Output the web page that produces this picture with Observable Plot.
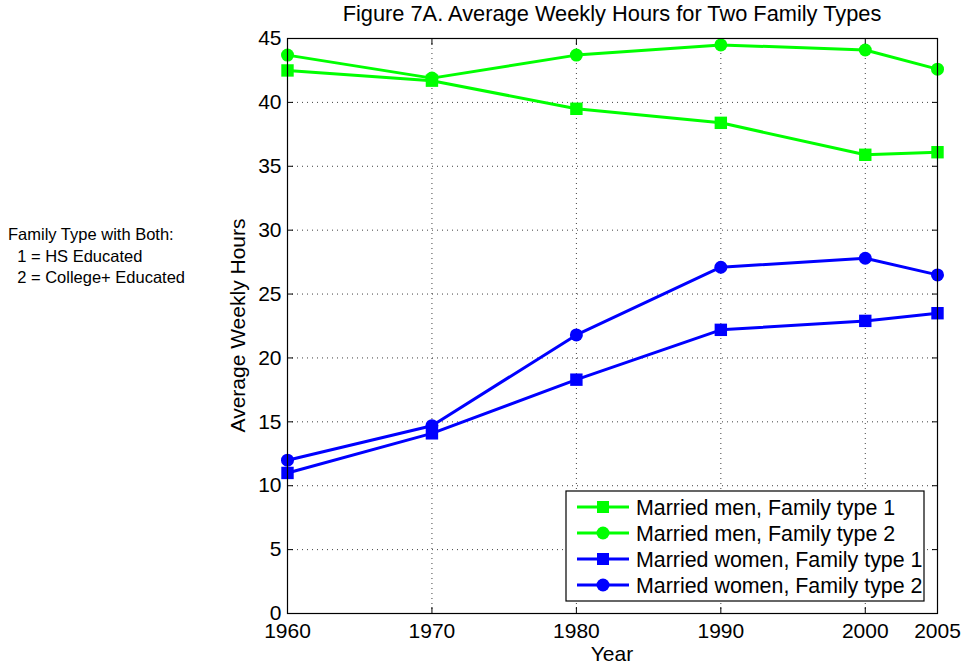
<!DOCTYPE html>
<html>
<head>
<meta charset="utf-8">
<script src="https://cdn.jsdelivr.net/npm/d3@7"></script>
<script src="https://cdn.jsdelivr.net/npm/@observablehq/plot@0.6"></script>
<style>
  html, body { margin: 0; padding: 0; background: white; }
  svg { display: block; }
</style>
</head>
<body>
<div id="chart"></div>
<script>
const years = [1960, 1970, 1980, 1990, 2000, 2005];
const menType1 = [42.5, 41.7, 39.5, 38.4, 35.9, 36.1];
const menType2 = [43.7, 41.9, 43.7, 44.5, 44.1, 42.6];
const womenType1 = [11.0, 14.1, 18.3, 22.2, 22.9, 23.5];
const womenType2 = [12.0, 14.7, 21.8, 27.1, 27.8, 26.5];
const seriesNames = ["Married men, Family type 1", "Married men, Family type 2", "Married women, Family type 1", "Married women, Family type 2"];
const seriesValues = [menType1, menType2, womenType1, womenType2];
const seriesColors = ["#00ff00", "#00ff00", "#0000ff", "#0000ff"];
const seriesSymbols = ["square", "circle", "square", "circle"];
const xTicks = [1960, 1970, 1980, 1990, 2000, 2005];
const yTicks = [0, 5, 10, 15, 20, 25, 30, 35, 40, 45];
const titleText = "Figure 7A. Average Weekly Hours for Two Family Types";
const xLabel = "Year";
const yLabel = "Average Weekly Hours";
const noteLines = ["Family Type with Both:", "  1 = HS Educated", "  2 = College+ Educated"];

const W = 962, H = 666;
const mL = 287, mR = 25, mT = 38, mB = 53;
const font = "'Liberation Sans', Arial, Helvetica, sans-serif";

const seriesMarks = [];
seriesNames.forEach((name, i) => {
  const rows = years.map((yr, j) => ({year: yr, value: seriesValues[i][j]}));
  seriesMarks.push(Plot.line(rows, {x: "year", y: "value", stroke: seriesColors[i], strokeWidth: 3}));
  seriesMarks.push(Plot.dot(rows, {x: "year", y: "value", fill: seriesColors[i], stroke: "none",
    symbol: seriesSymbols[i], r: seriesSymbols[i] === "square" ? 7 : 6.5}));
});

const grid = {stroke: "#000", strokeOpacity: 0.75, strokeDasharray: "1,4", strokeWidth: 1};

const chart = Plot.plot({
  width: W, height: H,
  marginLeft: mL, marginRight: mR, marginTop: mT, marginBottom: mB,
  style: {fontFamily: font, fontSize: "21px", background: "white", color: "black"},
  x: {domain: [1960, 2005], label: null},
  y: {domain: [0, 45], label: null},
  marks: [
    Plot.gridX(xTicks, grid),
    Plot.gridY(yTicks, grid),
    Plot.axisX(xTicks, {anchor: "bottom", tickSize: -6, tickFormat: () => "", label: null}),
    Plot.axisX(xTicks, {anchor: "top", tickSize: -6, tickFormat: () => "", label: null}),
    Plot.axisY(yTicks, {anchor: "left", tickSize: -6, tickFormat: () => "", label: null}),
    Plot.axisY(yTicks, {anchor: "right", tickSize: -6, tickFormat: () => "", label: null}),
    Plot.axisX(xTicks, {anchor: "bottom", tickSize: 0, tickPadding: 10, tickFormat: d => String(d), label: null, fontSize: 21}),
    Plot.axisY(yTicks, {anchor: "left", tickSize: 0, tickPadding: 6, tickFormat: d => String(d), label: null, fontSize: 21}),
    ...seriesMarks,
    Plot.frame({stroke: "black", strokeWidth: 1.2})
  ]
});

document.getElementById("chart").appendChild(chart);
const svg = d3.select(chart);

// Title
svg.append("text").attr("x", (mL + W - mR) / 2).attr("y", 21)
  .attr("text-anchor", "middle").style("font-family", font).style("font-size", "21.8px")
  .text(titleText);
// X label
svg.append("text").attr("x", (mL + W - mR) / 2).attr("y", 661)
  .attr("text-anchor", "middle").style("font-family", font).style("font-size", "21px")
  .text(xLabel);
// Y label
svg.append("text").attr("transform", `translate(245,${(mT + H - mB) / 2}) rotate(-90)`)
  .attr("text-anchor", "middle").style("font-family", font).style("font-size", "21px")
  .text(yLabel);
// Note
const note = svg.append("text").style("font-family", font).style("font-size", "16.5px")
  .attr("text-anchor", "start").attr("xml:space", "preserve");
noteLines.forEach((t, i) => {
  note.append("tspan").attr("x", 8).attr("y", 240 + i * 21.5).attr("text-anchor", "start")
    .style("white-space", "pre").text(t);
});

// Legend
const lg = svg.append("g");
lg.append("rect").attr("x", 566).attr("y", 491).attr("width", 358).attr("height", 110)
  .attr("fill", "white").attr("stroke", "black").attr("stroke-width", 1.2);
seriesNames.forEach((name, i) => {
  const cy = 507 + i * 26;
  lg.append("line").attr("x1", 577).attr("x2", 629).attr("y1", cy).attr("y2", cy)
    .attr("stroke", seriesColors[i]).attr("stroke-width", 3);
  if (seriesSymbols[i] === "square") {
    lg.append("rect").attr("x", 603 - 6).attr("y", cy - 6).attr("width", 12).attr("height", 12)
      .attr("fill", seriesColors[i]);
  } else {
    lg.append("circle").attr("cx", 603).attr("cy", cy).attr("r", 6.5).attr("fill", seriesColors[i]);
  }
  lg.append("text").attr("x", 636).attr("y", cy).attr("dy", "0.36em").attr("text-anchor", "start")
    .style("font-family", font).style("font-size", "21.4px").text(name);
});
</script>
</body>
</html>
